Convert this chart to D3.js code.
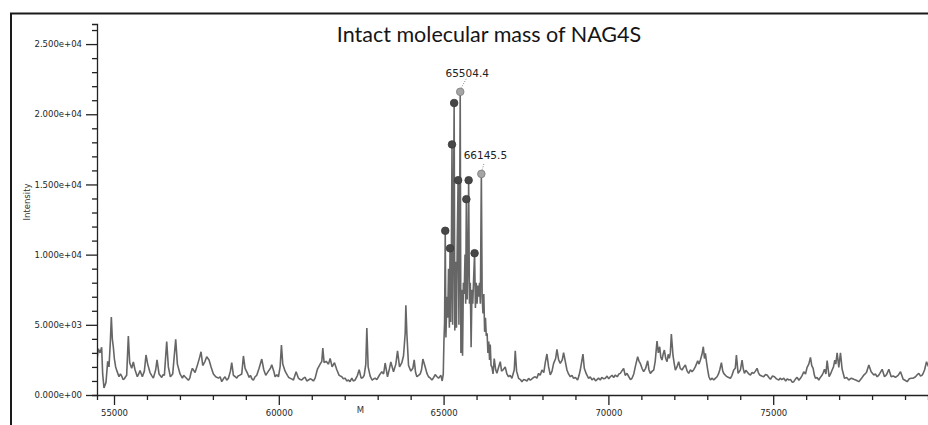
<!DOCTYPE html>
<html><head><meta charset="utf-8">
<script src="https://cdn.jsdelivr.net/npm/d3@7"></script>
<style>html,body{margin:0;padding:0;background:#fff;} svg{display:block;}</style>
</head><body><svg id="c" width="928" height="425"></svg>
<script>
const title = "Intact molecular mass of NAG4S";
const xLabel = "M";
const yLabel = "Intensity";
const xMajorTicks = [55000, 60000, 65000, 70000, 75000];
const xTickLabels = ["55000", "60000", "65000", "70000", "75000"];
const yMajorTicks = [0, 5000, 10000, 15000, 20000, 25000];
const yTickLabels = ["0.000e+00", "5.000e+03", "1.000e+04", "1.500e+04", "2.000e+04", "2.500e+04"];

// [mass, intensity]
const spectrum = [
[54474,2300],[54524,3300],[54575,3000],[54625,3400],[54656,1500],[54696,500],[54757,900],[54808,2400],[54848,2000],[54889,3800],[54919,5550],[54949,4000],[54980,3400],[55010,2600],[55050,2000],[55091,1700],[55152,1300],[55195,1500],[55233,1350],[55275,1100],[55313,1150],[55350,1300],[55384,1400],[55435,4200],[55476,2300],[55536,1900],[55587,2350],[55637,1800],[55708,1300],[55750,1500],[55789,1750],[55860,1300],[55921,1700],[55971,2850],[56022,2200],[56093,1600],[56140,1400],[56194,1200],[56265,1800],[56305,2500],[56366,1500],[56447,1250],[56490,1450],[56528,1400],[56599,3800],[56649,2000],[56710,1300],[56781,1500],[56872,3960],[56923,2200],[57004,1500],[57075,1200],[57115,1400],[57155,1300],[57257,1050],[57300,1200],[57337,1600],[57378,1900],[57459,1600],[57540,2200],[57600,2700],[57641,3080],[57692,2100],[57762,2400],[57813,2730],[57884,2500],[57945,2000],[58016,1500],[58086,1300],[58167,1200],[58220,1300],[58269,950],[58320,1150],[58370,1300],[58420,1050],[58471,1200],[58532,1700],[58572,2300],[58623,1400],[58680,1300],[58724,1200],[58765,1350],[58805,1400],[58876,1500],[58926,2780],[58977,1900],[59058,1500],[59100,1250],[59139,1400],[59185,1150],[59230,1050],[59280,1300],[59331,1400],[59402,1900],[59483,2560],[59544,1800],[59604,1400],[59685,1700],[59746,1900],[59786,2150],[59847,1700],[59888,1300],[59940,1450],[59989,1300],[60040,2000],[60080,3560],[60120,2200],[60191,1700],[60262,1400],[60300,1250],[60343,1200],[60390,1150],[60444,1070],[60525,1660],[60596,1200],[60650,1100],[60697,1070],[60750,1200],[60799,1260],[60850,1000],[60900,1070],[60950,1150],[61001,1100],[61050,1000],[61102,1200],[61173,1850],[61254,2200],[61305,2400],[61335,3340],[61375,2300],[61436,2400],[61507,2200],[61558,2600],[61618,2000],[61689,2300],[61760,1800],[61831,1400],[61912,1300],[61960,1150],[62013,1200],[62060,1000],[62114,1070],[62160,950],[62215,1200],[62260,1000],[62317,1070],[62387,1400],[62438,1800],[62499,1200],[62550,1250],[62590,1400],[62640,2200],[62671,4770],[62711,2000],[62772,1350],[62833,1050],[62880,1150],[62924,1200],[62975,1100],[63025,1300],[63075,1500],[63126,1650],[63180,1500],[63227,2280],[63298,1300],[63359,1900],[63399,2350],[63480,1660],[63551,2200],[63602,3150],[63663,2000],[63733,2300],[63784,2800],[63835,4400],[63855,6400],[63885,4400],[63936,2100],[64007,1700],[64067,1900],[64108,2500],[64150,1600],[64189,1300],[64240,1400],[64290,1500],[64330,1800],[64371,2560],[64442,2000],[64500,1500],[64543,1300],[64600,1200],[64644,1070],[64700,1250],[64745,1450],[64800,1300],[64847,1200],[64918,1400],[64958,1000],
[64990,1500],[65010,3800],[65030,5200],[65050,11700],[65070,4100],[65100,7000],[65125,5500],[65150,9000],[65175,4800],[65195,10450],[65215,5200],[65235,9500],[65255,17850],[65275,5000],[65300,13000],[65320,20800],[65340,4600],[65365,9500],[65390,4800],[65415,11000],[65440,15300],[65465,5000],[65485,12500],[65504.4,21600],[65525,3000],[65550,7500],[65575,2800],[65600,8000],[65625,7200],[65650,10000],[65670,6500],[65690,13950],[65715,6800],[65740,9500],[65760,15300],[65785,6500],[65810,8000],[65835,3400],[65860,7500],[65885,6500],[65910,8200],[65940,10100],[65965,6200],[65990,8000],[66015,6500],[66040,7800],[66065,7000],[66090,8000],[66115,6500],[66145.5,15750],[66170,7000],[66195,5800],[66220,7200],[66245,4500],[66270,5500],[66295,4200],[66320,4400],[66345,3000],[66370,3800],[66395,2500],[66415,3600],[66440,2100],
[66466,2000],[66500,1500],[66536,2600],[66580,1800],[66617,1550],[66660,1900],[66719,2370],[66760,1700],[66800,1780],[66870,2000],[66920,1500],[66972,1300],[67020,1400],[67073,1190],[67144,1800],[67174,3150],[67215,1700],[67275,1190],[67330,1100],[67376,950],[67430,1100],[67478,1070],[67530,1000],[67579,1190],[67630,1050],[67680,1150],[67730,1250],[67781,1300],[67830,1200],[67882,1540],[67930,1400],[67984,1780],[68040,1600],[68085,2300],[68135,2920],[68186,2000],[68237,1430],[68290,1700],[68338,2250],[68400,2600],[68439,3250],[68490,2500],[68540,2250],[68600,2500],[68641,3010],[68692,2400],[68743,1780],[68790,1500],[68844,1300],[68895,1400],[68945,1190],[69000,1250],[69066,1070],[69110,1400],[69147,1780],[69228,2920],[69269,1900],[69330,1500],[69400,1190],[69450,1300],[69502,1070],[69560,1200],[69610,1000],[69654,1100],[69700,1200],[69755,1069],[69800,1250],[69860,1150],[69907,1190],[69960,1350],[70010,1150],[70058,1300],[70110,1400],[70160,1250],[70210,1420],[70270,1300],[70320,1500],[70362,1540],[70420,1750],[70463,1900],[70510,1400],[70564,1540],[70620,1300],[70670,1100],[70716,1190],[70770,1500],[70817,2020],[70888,2730],[70930,2400],[70969,2250],[71020,1900],[71070,1660],[71130,1900],[71192,2440],[71230,1800],[71273,1540],[71330,1700],[71374,1780],[71420,2400],[71475,3840],[71515,3000],[71556,3440],[71590,2700],[71627,2490],[71660,2900],[71698,3200],[71740,2600],[71779,2370],[71815,2900],[71849,2610],[71880,3000],[71910,4340],[71961,2800],[72000,2200],[72032,1780],[72080,2000],[72133,2370],[72180,1900],[72234,1780],[72290,2000],[72335,2140],[72390,1700],[72436,1540],[72490,1800],[72537,1660],[72590,1800],[72639,2020],[72710,2430],[72750,2200],[72791,2490],[72840,2900],[72880,3440],[72915,2600],[72943,2970],[72980,2300],[73014,1780],[73050,1300],[73095,1070],[73150,1200],[73196,1070],[73250,1200],[73297,1300],[73340,1500],[73378,1780],[73429,2300],[73470,1700],[73500,1540],[73550,1400],[73601,1300],[73650,1250],[73702,1190],[73750,1400],[73803,1780],[73850,1900],[73884,2850],[73935,1540],[74005,1780],[74056,2490],[74090,1900],[74127,1540],[74170,1750],[74208,1660],[74260,1500],[74309,1420],[74360,1600],[74410,1540],[74460,1700],[74511,1900],[74550,1600],[74592,1420],[74650,1350],[74714,1300],[74760,1450],[74815,1420],[74870,1250],[74916,1120],[74980,1350],[75038,1300],[75100,1150],[75169,1070],[75210,1200],[75260,1100],[75321,1190],[75380,1000],[75430,1150],[75473,1070],[75530,1100],[75580,900],[75625,950],[75680,1150],[75726,1260],[75780,1050],[75827,1190],[75880,1400],[75928,1660],[75980,1500],[76029,1970],[76080,2200],[76131,2680],[76170,2100],[76212,1900],[76250,1400],[76282,1190],[76330,1250],[76384,1070],[76430,1250],[76485,1420],[76520,1600],[76556,1830],[76600,1500],[76637,2450],[76697,1300],[76740,1500],[76788,1780],[76830,2000],[76869,2490],[76900,2200],[76940,3010],[76991,1970],[77041,3010],[77092,1830],[77130,1500],[77163,1190],[77230,1250],[77294,1070],[77370,1200],[77446,1120],[77520,1050],[77598,950],[77670,1150],[77750,1420],[77830,1600],[77902,2140],[77972,1660],[78053,1420],[78100,1500],[78155,1300],[78200,1400],[78236,1540],[78306,1830],[78377,1300],[78440,1450],[78509,1830],[78580,1300],[78640,1350],[78711,1260],[78790,1400],[78863,1660],[78944,1120],[79000,1050],[79065,950],[79130,1150],[79187,1190],[79250,1200],[79318,1300],[79370,1450],[79420,1540],[79470,1350],[79521,1420],[79560,1600],[79592,1780],[79653,2370],[79713,2020]
];

const peakMasses      = [65050, 65195, 65255, 65320, 65440, 65504.4, 65690, 65760, 65940, 66145.5];
const peakIntensities = [11700, 10450, 17850, 20800, 15300, 21600, 13950, 15300, 10100, 15750];
const peakLabels      = ["", "", "", "", "", "65504.4", "", "", "", "66145.5"];

const svg = d3.select("#c");
const W = 928, H = 425;
const x = d3.scaleLinear().domain([54484, 79697]).range([97, 928]);
const y = d3.scaleLinear().domain([0, 26430]).range([395, 24]);

// frame
svg.append("path").attr("d", "M11,425 L11,13.5 L928,13.5")
  .attr("fill", "none").attr("stroke", "#1a1a1a").attr("stroke-width", 2);

// title
svg.append("text").attr("x", 489).attr("y", 42).attr("text-anchor", "middle")
  .attr("font-family", "Lato, 'Open Sans', sans-serif").attr("font-size", 21.5)
  .attr("fill", "#151515").text(title);

// clip
svg.append("clipPath").attr("id", "plot").append("rect")
  .attr("x", 97).attr("y", 0).attr("width", W - 97).attr("height", 395);

// spectrum
const line = d3.line().x(d => x(d[0])).y(d => y(d[1]));
svg.append("path").datum(spectrum).attr("clip-path", "url(#plot)")
  .attr("d", line).attr("fill", "none").attr("stroke", "#666666")
  .attr("stroke-width", 1.6).attr("stroke-linejoin", "bevel");

// axes
const tickFont = "'DejaVu Sans', Verdana, sans-serif";
const xMinor = d3.range(55000, 79697, 1000).filter(v => !xMajorTicks.includes(v));
const yMinor = d3.range(1000, 26430, 1000).filter(v => !yMajorTicks.includes(v));

const gx = svg.append("g").attr("transform", "translate(0,395)");
gx.call(d3.axisBottom(x).tickValues(xMinor).tickSize(5).tickFormat(""));
const gx2 = svg.append("g").attr("transform", "translate(0,395)");
gx2.call(d3.axisBottom(x).tickValues(xMajorTicks).tickSize(10).tickPadding(5)
  .tickFormat((d, i) => xTickLabels[i]));
gx2.select(".domain").remove();

const gy = svg.append("g").attr("transform", "translate(97,0)");
gy.call(d3.axisLeft(y).tickValues(yMinor).tickSize(5).tickFormat(""));
const gy2 = svg.append("g").attr("transform", "translate(97,0)");
gy2.call(d3.axisLeft(y).tickValues(yMajorTicks).tickSize(11).tickPadding(4)
  .tickFormat((d, i) => yTickLabels[i]));
gy2.select(".domain").remove();

svg.selectAll(".domain, .tick line").attr("stroke", "#222").attr("stroke-width", 1.3);
svg.selectAll(".tick text").attr("font-family", tickFont).attr("font-size", 8.5).attr("fill", "#262626");

// axis titles
svg.append("text").attr("x", 360.5).attr("y", 413).attr("text-anchor", "middle")
  .attr("font-family", tickFont).attr("font-size", 8.5).attr("fill", "#333").text(xLabel);
svg.append("text").attr("transform", "translate(30,202) rotate(-90)").attr("text-anchor", "middle")
  .attr("font-family", tickFont).attr("font-size", 8.5).attr("fill", "#333").text(yLabel);

// peak markers
const peaks = peakMasses.map((m, i) => ({ m, v: peakIntensities[i], label: peakLabels[i] }));
const labelled = peaks.filter(p => p.label);
const offsets = { "65504.4": [7, -15, 6, -13], "66145.5": [4, -14.5, 2.5, -10] };

svg.selectAll(".lead").data(labelled).enter().append("line")
  .attr("x1", p => x(p.m) + offsets[p.label][2]).attr("y1", p => y(p.v) + offsets[p.label][3])
  .attr("x2", p => x(p.m) + 0.5).attr("y2", p => y(p.v) - 3)
  .attr("stroke", "#888").attr("stroke-width", 1).attr("stroke-dasharray", "1,1.5");

svg.selectAll(".pk").data(peaks).enter().append("circle")
  .attr("cx", p => x(p.m)).attr("cy", p => y(p.v)).attr("r", 3.8)
  .attr("fill", p => p.label ? "#a5a5a5" : "#474747")
  .attr("stroke", p => p.label ? "#7a7a7a" : "#3a3a3a").attr("stroke-width", 0.8);

svg.selectAll(".pl").data(labelled).enter().append("text")
  .attr("x", p => x(p.m) + offsets[p.label][0]).attr("y", p => y(p.v) + offsets[p.label][1])
  .attr("text-anchor", "middle").attr("font-family", tickFont).attr("font-size", 10.5)
  .attr("fill", "#222").text(p => p.label);
</script></body></html>
